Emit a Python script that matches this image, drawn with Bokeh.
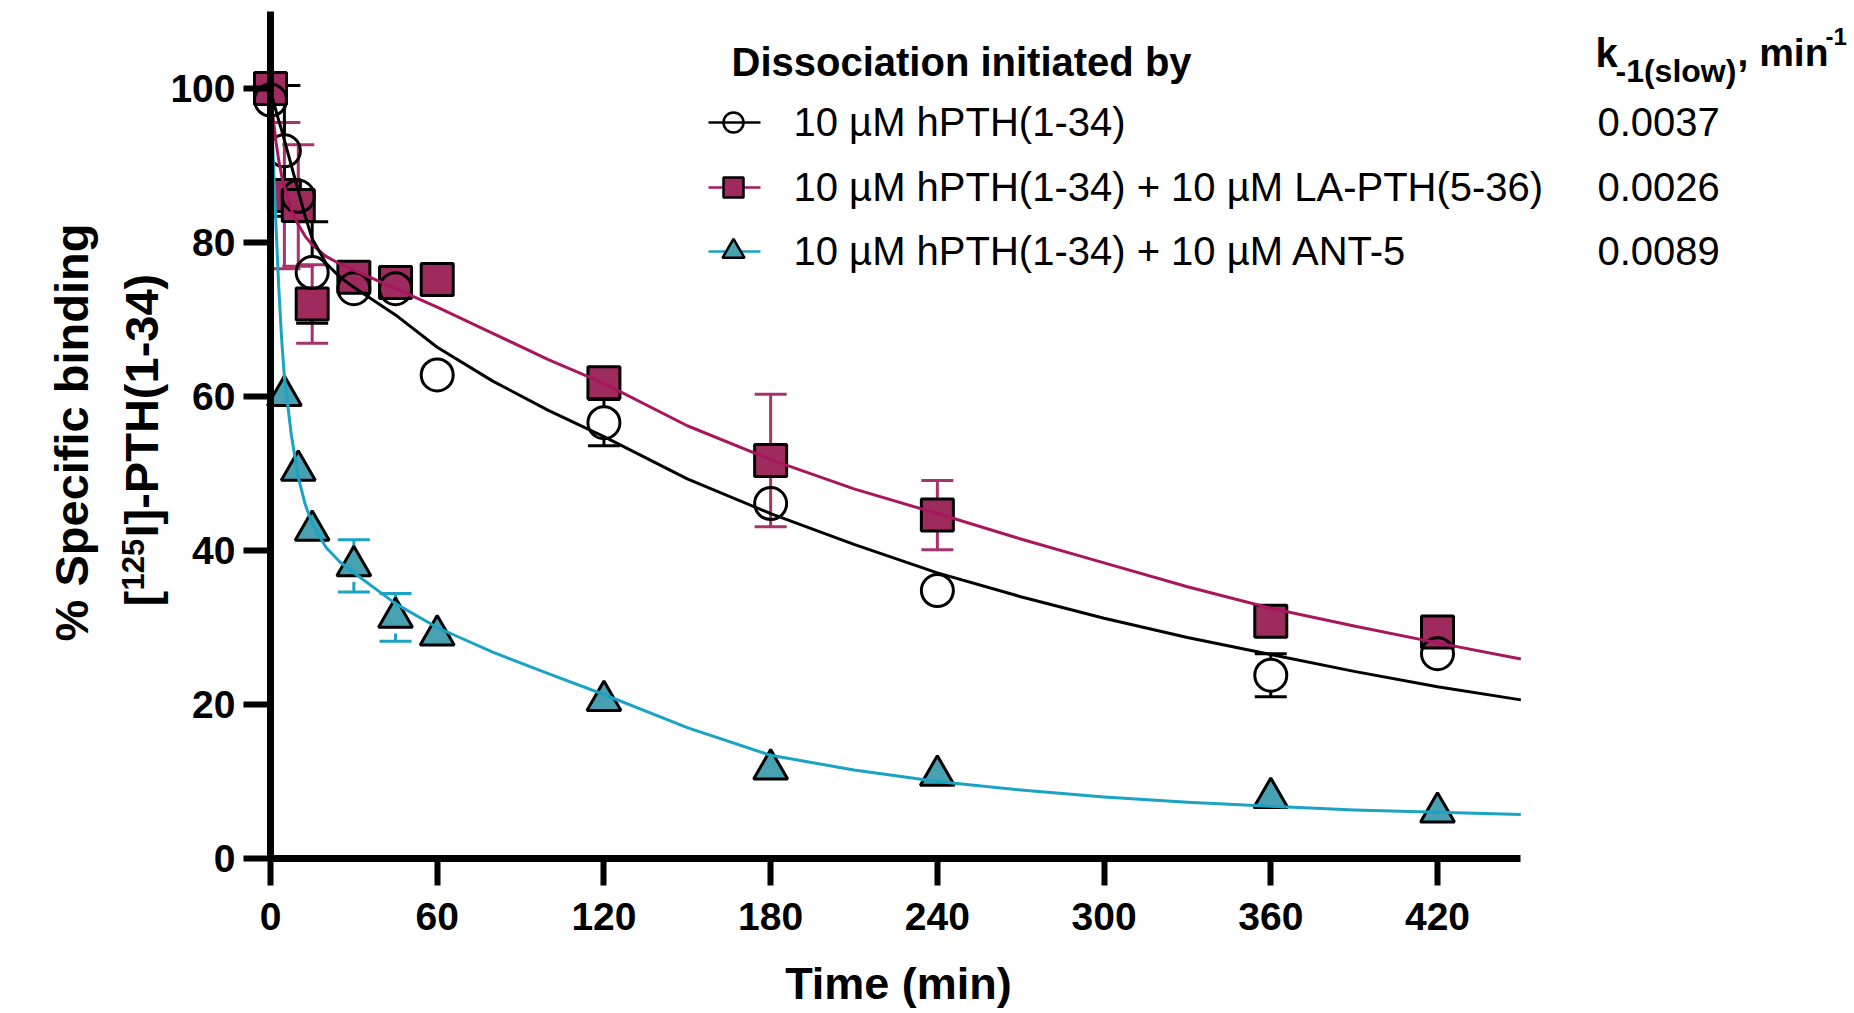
import math
from bokeh.plotting import figure
from bokeh.models import Range1d, FixedTicker, Whisker, TeeHead, ColumnDataSource, Label
from bokeh.embed import file_html
from bokeh.resources import INLINE

# ---------------- data ----------------
time_min = [0, 5, 10, 15, 30, 45, 60, 120, 180, 240, 360, 420]
hpth_mean = [98.5, 91.9, 86.0, 76.1, 74.0, 74.0, 62.8, 56.6, 46.1, 34.8, 23.8, 26.6]
hpth_err = [1.0, 8.5, 1.0, 6.6, 1.0, 1.0, 1.0, 3.0, 1.0, 1.0, 2.8, 1.0]
la_mean = [100.0, 86.1, 84.8, 72.0, 75.5, 74.8, 75.2, 61.8, 51.7, 44.6, 30.8, 29.4]
la_err = [1.0, 9.5, 7.9, 5.1, 1.0, 1.0, 1.0, 1.5, 8.6, 4.5, 1.5, 1.5]
ant_time = [5, 10, 15, 30, 45, 60, 120, 180, 240, 360, 420]
ant_mean = [60.1, 50.4, 42.6, 38.0, 31.3, 29.0, 20.5, 11.6, 10.8, 7.9, 6.0]
ant_err = [1.0, 1.0, 1.0, 3.4, 3.1, 1.0, 1.0, 1.0, 1.0, 1.0, 1.0]

fit_time = [0, 1, 2, 3, 4, 5, 7.5, 10, 12.5, 15, 20, 25, 30, 45, 60, 80, 100, 120,
            150, 180, 210, 240, 270, 300, 330, 360, 390, 420, 450]
hpth_fit = [99.6, 98.4, 97.1, 95.8, 94.6, 93.3, 90.0, 86.7, 83.4, 80.5, 77.3, 75.5, 74.2,
            70.6, 66.4, 62.0, 58.2, 54.8, 49.3, 44.8, 40.8, 37.1, 34.0, 31.2, 28.7, 26.5,
            24.3, 22.3, 20.6]
la_fit = [99.6, 96.0, 93.0, 90.6, 88.7, 87.2, 84.3, 82.3, 80.8, 79.7, 78.2, 77.2, 76.4,
          74.0, 71.6, 68.2, 64.8, 61.7, 56.2, 51.8, 48.0, 44.8, 41.5, 38.4, 35.3, 32.5,
          30.2, 28.0, 25.9]
ant_fit = [99.0, 91.0, 82.0, 74.0, 67.5, 62.5, 55.0, 49.5, 46.0, 43.5, 40.4, 38.5, 37.1,
           33.1, 30.0, 26.8, 24.0, 21.3, 17.0, 13.4, 11.5, 10.0, 8.9, 8.0, 7.3, 6.8,
           6.3, 6.0, 5.7]

x_ticks = [0, 60, 120, 180, 240, 300, 360, 420]
y_ticks = [0, 20, 40, 60, 80, 100]
series_labels = ["10 µM hPTH(1-34)",
                 "10 µM hPTH(1-34) + 10 µM LA-PTH(5-36)",
                 "10 µM hPTH(1-34) + 10 µM ANT-5"]
k_slow = ["0.0037", "0.0026", "0.0089"]
legend_title = "Dissociation initiated by"
x_title = "Time (min)"

# ---------------- layout (page pixels; the frame covers the whole canvas) ----------------
FONT = "Liberation Sans"
W, H = 1850, 1010
AX_X0 = 270.0          # page x of t = 0
AX_X420 = 1437.0       # page x of t = 420
AX_Y0 = 858.0          # page y of value 0
AX_Y100 = 88.0         # page y of value 100
PXT = (AX_X420 - AX_X0) / 420.0
PYV = (AX_Y0 - AX_Y100) / 100.0
X_END = 450
Y_TOP = 110


def dx(px):
    return (px - AX_X0) / PXT


def dy(py):
    return (AX_Y0 - py) / PYV


BASE_CORR = 0.375   # measured offset of Bokeh's alphabetic baseline, in em

BLACK = "#000000"
MAG_FILL = "#9E2A5E"
MAG_LINE = "#A8175E"
MAG_ERR = "#A8336B"
TEAL_FILL = "#48A1B2"
TEAL_LINE = "#1AA3C2"

p = figure(width=W, height=H, output_backend="svg", toolbar_location=None,
           x_range=Range1d(dx(0), dx(W)), y_range=Range1d(dy(H), dy(0)),
           min_border_left=0, min_border_right=0, min_border_top=0, min_border_bottom=0)
p.outline_line_color = None
p.xgrid.visible = False
p.ygrid.visible = False
p.background_fill_color = "white"
p.border_fill_color = "white"

for ax in (p.xaxis[0], p.yaxis[0]):
    ax.fixed_location = 0
    ax.axis_line_width = 7
    ax.axis_line_color = BLACK
    ax.major_tick_line_width = 6
    ax.major_tick_line_color = BLACK
    ax.major_tick_in = 0
    ax.major_tick_out = 27
    ax.minor_tick_in = 0
    ax.minor_tick_out = 0
    ax.major_label_text_font = FONT
    ax.major_label_text_font_size = "39px"
    ax.major_label_text_font_style = "bold"
    ax.major_label_text_color = BLACK

p.xaxis.ticker = FixedTicker(ticks=x_ticks)
p.xaxis.bounds = (0, X_END)
p.xaxis.major_label_standoff = 17
p.yaxis.ticker = FixedTicker(ticks=y_ticks)
p.yaxis.bounds = (0, Y_TOP)
p.yaxis.major_label_standoff = 8


def add_text(text, px, py, size, bold=False, align="left", angle=0.0):
    """px, py: page position of the text's anchor on its baseline."""
    c = BASE_CORR * size
    if angle == 0.0:
        x, y = dx(px), dy(py - c)
    else:
        x, y = dx(px - c), dy(py)
    p.add_layout(Label(x=x, y=y, text=text, angle=angle, text_font=FONT,
                       text_font_size=f"{size}px",
                       text_font_style="bold" if bold else "normal",
                       text_color=BLACK, text_baseline="alphabetic", text_align=align))


# ---------------- error bars (Prism style, from symbol edge) ----------------
MS = 32
r_y = (MS / 2) / PYV


def add_err(xs, ys, es, color):
    up = dict(x=[], lo=[], hi=[])
    dn = dict(x=[], lo=[], hi=[])
    for x, y, e in zip(xs, ys, es):
        if e > r_y:
            up["x"].append(x); up["lo"].append(y + r_y); up["hi"].append(y + e)
            dn["x"].append(x); dn["lo"].append(y - e); dn["hi"].append(y - r_y)
    w1 = Whisker(source=ColumnDataSource(up), base="x", lower="lo", upper="hi",
                 dimension="height", line_color=color, line_width=3, level="underlay",
                 lower_head=None,
                 upper_head=TeeHead(size=32, line_color=color, line_width=3))
    w2 = Whisker(source=ColumnDataSource(dn), base="x", lower="lo", upper="hi",
                 dimension="height", line_color=color, line_width=3, level="underlay",
                 upper_head=None,
                 lower_head=TeeHead(size=32, line_color=color, line_width=3))
    p.add_layout(w1)
    p.add_layout(w2)


add_err(ant_time, ant_mean, ant_err, TEAL_LINE)
add_err(time_min, la_mean, la_err, MAG_ERR)
add_err(time_min, hpth_mean, hpth_err, BLACK)

# ---------------- symbols ----------------
p.scatter(ant_time, ant_mean, marker="triangle", size=34, fill_color=TEAL_FILL,
          line_color=BLACK, line_width=3)
p.scatter(time_min, la_mean, marker="square", size=MS, fill_color=MAG_FILL,
          line_color=BLACK, line_width=3)
p.scatter(time_min, hpth_mean, marker="circle", size=MS, fill_color=None,
          line_color=BLACK, line_width=3)

# ---------------- fitted curves ----------------
p.line(fit_time, ant_fit, line_color=TEAL_LINE, line_width=3, line_join="round")
p.line(fit_time, la_fit, line_color=MAG_LINE, line_width=3, line_join="round")
p.line(fit_time, hpth_fit, line_color=BLACK, line_width=3, line_join="round")

# ---------------- legend (manual) ----------------
LEG_X0, LEG_X1, LEG_MX = 708, 760, 733
ROW_Y = [122, 187, 251]
leg_styles = [
    dict(marker="circle", size=20, fill_color=None, line=BLACK),
    dict(marker="square", size=20, fill_color=MAG_FILL, line=MAG_LINE),
    dict(marker="triangle", size=22, fill_color=TEAL_FILL, line=TEAL_LINE),
]
for ry, st, lab, kv in zip(ROW_Y, leg_styles, series_labels, k_slow):
    p.line([dx(LEG_X0), dx(LEG_X1)], [dy(ry), dy(ry)], line_color=st["line"], line_width=2.5)
    p.scatter([dx(LEG_MX)], [dy(ry)], marker=st["marker"], size=st["size"],
              fill_color=st["fill_color"], line_color=BLACK, line_width=2.5)
    add_text(lab, 793, ry + 14, 40)
    add_text(kv, 1597, ry + 14, 40)

add_text(legend_title, 731, 76, 40, bold=True)

# header k_-1(slow), min^-1
add_text("k", 1595, 67, 40, bold=True)
add_text("-1(slow)", 1615, 82, 32, bold=True)
add_text(", min", 1737, 67, 39, bold=True)
add_text("-1", 1825, 45, 24, bold=True)

# ---------------- axis titles ----------------
add_text(x_title, 898, 1000, 45, bold=True, align="center")

YL = 47
add_text("% Specific binding", 89, 432, YL, bold=True, align="center", angle=math.pi / 2)
add_text("[", 159, 606, YL, bold=True, angle=math.pi / 2)
add_text("125", 144, 590, 31, bold=True, angle=math.pi / 2)
add_text("I]-PTH(1-34)", 159, 537, YL, bold=True, angle=math.pi / 2)

open("out.html", "w").write(file_html(p, INLINE))
